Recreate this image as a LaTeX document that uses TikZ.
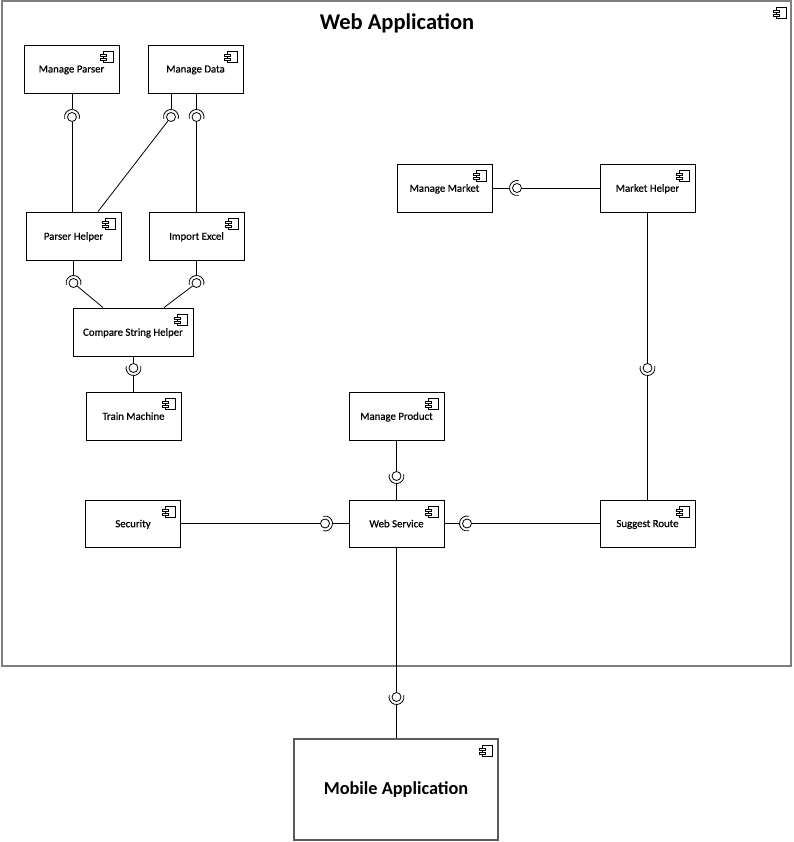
\documentclass[tikz,border=0pt]{standalone}
\usepackage{fontspec}
\setmainfont{Carlito}
\newfontfamily\compfont{Carlito}[FakeBold=0.6]
\definecolor{framegray}{HTML}{7F7F7F}
\definecolor{boxgray}{HTML}{5A5A5A}
% UML component icon in the upper right corner of a node
\newcommand\compicon[1]{%
  \draw[line width=0.7pt, fill=white] ([xshift=-16pt,yshift=-7pt]#1.north east) rectangle ++(10pt,-11pt);
  \draw[line width=0.7pt, fill=white] ([xshift=-19pt,yshift=-9.5pt]#1.north east) rectangle ++(6pt,-2.5pt);
  \draw[line width=0.7pt, fill=white] ([xshift=-19pt,yshift=-13.5pt]#1.north east) rectangle ++(6pt,-2.5pt);
}
% socket arc around a ball node, #2 = direction of the arc's apex
\newcommand\socketarc[2]{%
  \draw[wire] ([shift={(#2-105:7.5pt)}]#1.center) arc[start angle=#2-105, end angle=#2+105, radius=7.5pt];
}
\begin{document}
\begin{tikzpicture}[x=1pt,y=-1pt,
  comp/.style={draw=black, line width=0.9pt, fill=white, minimum width=95pt, minimum height=48pt,
    inner sep=0pt, text depth=0pt, font=\compfont\fontsize{10.8}{12}\selectfont},
  appframe/.style={draw=framegray, line width=2pt, minimum width=789pt, minimum height=664pt, inner sep=0pt},
  bigcomp/.style={draw=boxgray, line width=1.3pt, fill=white, minimum width=204pt, minimum height=101pt,
    inner sep=0pt, font=\fontsize{18.3}{22}\selectfont\bfseries},
  ball/.style={circle, draw=black, line width=0.8pt, fill=white, minimum size=9pt, inner sep=0pt},
  wire/.style={draw=black, line width=0.8pt},
]
\useasboundingbox (0,0) rectangle (793,842);

% enclosing web application
\node[appframe] (app) at (396.5,333.5) {};
\node[font=\fontsize{22.5}{26}\selectfont\bfseries] (title) at (397,23.5) {Web Application};
\compicon{app}

% components
\node[comp] (mparser)  at (71.5,69)    {Manage Parser};
\node[comp] (mdata)    at (195.5,69)   {Manage Data};
\node[comp] (phelper)  at (73.5,236)   {Parser Helper};
\node[comp] (iexcel)   at (196.5,236)  {Import Excel};
\node[comp, minimum width=120pt] (cstring) at (133,332) {Compare String Helper};
\node[comp] (train)    at (133.5,416)  {Train Machine};
\node[comp] (mmarket)  at (444.5,188)  {Manage Market};
\node[comp] (mhelper)  at (647.5,188)  {Market Helper};
\node[comp] (mproduct) at (396.5,416)  {Manage Product};
\node[comp, minimum height=47pt] (security) at (133,523.5)  {Security};
\node[comp, minimum height=47pt] (wservice) at (396.5,523.5) {Web Service};
\node[comp, minimum height=47pt] (sroute)   at (647.5,523.5) {Suggest Route};
\node[bigcomp] (mobile) at (396,789.5) {Mobile Application};

\foreach \n in {mparser,mdata,phelper,iexcel,cstring,train,mmarket,mhelper,mproduct,security,wservice,sroute,mobile}
  {\compicon{\n}}

% provided interfaces (balls)
\node[ball] (b1)  at (72,117)     {};
\node[ball] (b2)  at (171,117)    {};
\node[ball] (b3)  at (196.5,117)  {};
\node[ball] (b4)  at (73.5,283)   {};
\node[ball] (b5)  at (196.5,283)  {};
\node[ball] (b6)  at (133.5,368)  {};
\node[ball] (b7)  at (517,188)    {};
\node[ball] (b8)  at (647.5,368)  {};
\node[ball] (b9)  at (396.5,476)  {};
\node[ball] (b10) at (325,523.5)  {};
\node[ball] (b11) at (467,523.5)  {};
\node[ball] (b12) at (396.5,697)  {};

% Manage Parser / Manage Data -> Parser Helper, Import Excel
\draw[wire] (mparser.south -| b1) -- ([yshift=7.5pt]b1.center);
\socketarc{b1}{90}
\draw[wire] (b1) -- (b1 |- phelper.north);
\draw[wire] (mdata.south -| b2) -- ([yshift=7.5pt]b2.center);
\socketarc{b2}{90}
\draw[wire] (b2) -- ([xshift=24.5pt]phelper.north);
\draw[wire] (mdata.south -| b3) -- ([yshift=7.5pt]b3.center);
\socketarc{b3}{90}
\draw[wire] (b3) -- (b3 |- iexcel.north);

% Parser Helper / Import Excel -> Compare String Helper
\draw[wire] (phelper.south -| b4) -- ([yshift=7.5pt]b4.center);
\socketarc{b4}{90}
\draw[wire] (b4) -- ([xshift=-30pt]cstring.north);
\draw[wire] (iexcel.south -| b5) -- ([yshift=7.5pt]b5.center);
\socketarc{b5}{90}
\draw[wire] (b5) -- ([xshift=31pt]cstring.north);

% Compare String Helper -> Train Machine
\draw[wire] (cstring.south -| b6) -- (b6);
\socketarc{b6}{270}
\draw[wire] ([yshift=-7.5pt]b6.center) -- (b6 |- train.north);

% Manage Market <- Market Helper
\draw[wire] (mmarket.east) -- ([xshift=-7.5pt]b7.center);
\socketarc{b7}{180}
\draw[wire] (b7) -- (mhelper.west);

% Market Helper -> Suggest Route
\draw[wire] (mhelper.south) -- (b8);
\socketarc{b8}{270}
\draw[wire] ([yshift=-7.5pt]b8.center) -- (sroute.north);

% Manage Product, Security, Suggest Route -> Web Service
\draw[wire] (mproduct.south) -- (b9);
\socketarc{b9}{270}
\draw[wire] ([yshift=-7.5pt]b9.center) -- (wservice.north);
\draw[wire] (security.east) -- (b10);
\socketarc{b10}{0}
\draw[wire] ([xshift=7.5pt]b10.center) -- (wservice.west);
\draw[wire] (wservice.east) -- ([xshift=-7.5pt]b11.center);
\socketarc{b11}{180}
\draw[wire] (b11) -- (sroute.west);

% Web Service -> Mobile Application
\draw[wire] (wservice.south) -- (b12);
\socketarc{b12}{270}
\draw[wire] ([yshift=-7.5pt]b12.center) -- (b12 |- mobile.north);
\end{tikzpicture}
\end{document}
